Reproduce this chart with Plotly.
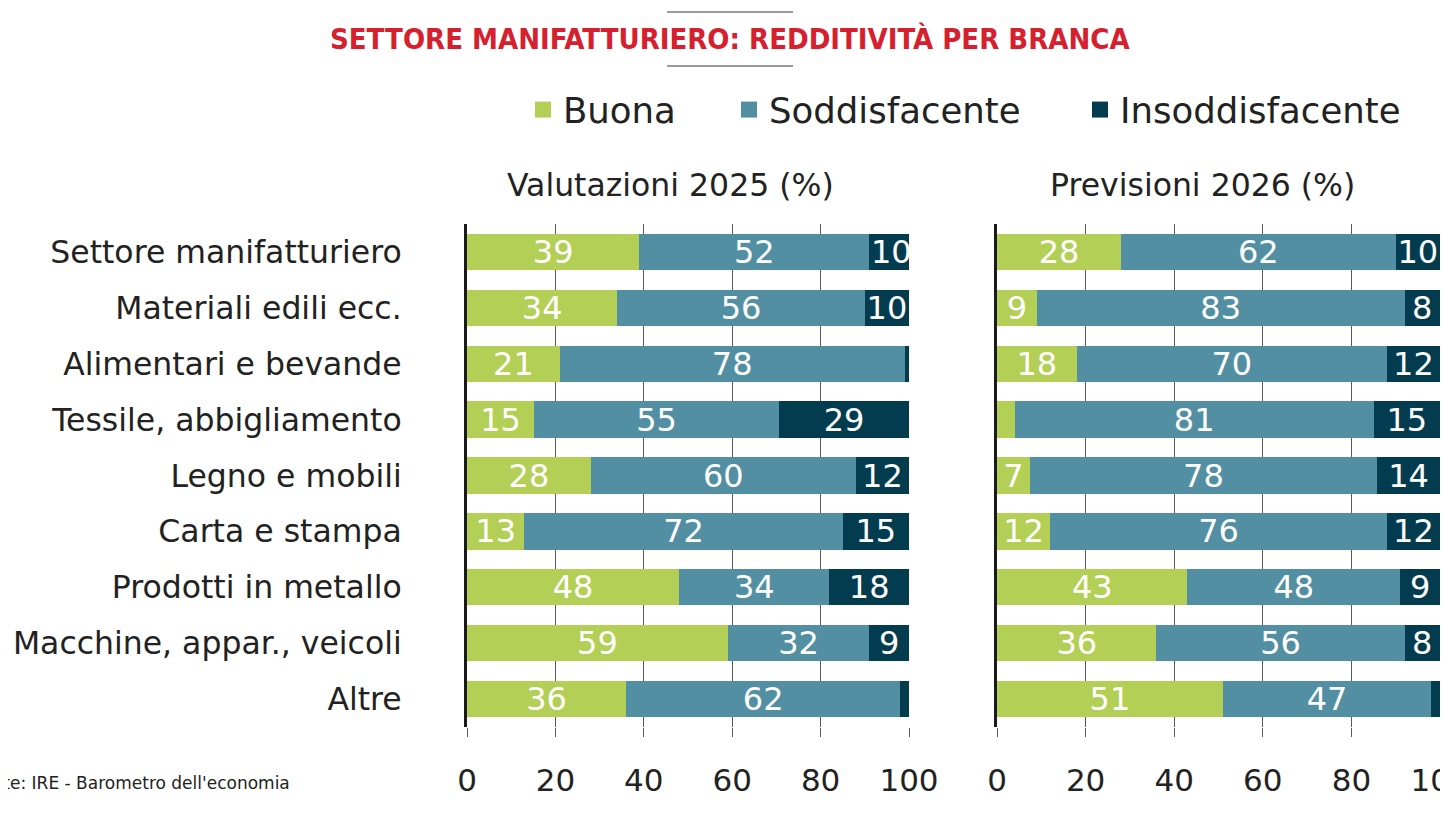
import plotly.graph_objects as go
from plotly.subplots import make_subplots

# Dati (percentuali)
branche = ["Settore manifatturiero", "Materiali edili ecc.", "Alimentari e bevande",
           "Tessile, abbigliamento", "Legno e mobili", "Carta e stampa",
           "Prodotti in metallo", "Macchine, appar., veicoli", "Altre"]

buona_2025 = [39, 34, 21, 15.2, 28, 13, 48, 59, 36]
sodd_2025 = [52, 56, 78, 55.4, 60, 72, 34, 32, 62]
insodd_2025 = [10, 10, 1, 29.4, 12, 15, 18, 9, 2]

buona_2026 = [28, 9, 18, 4, 7.4, 12, 43, 36, 51]
sodd_2026 = [62, 83, 70, 81, 78.4, 76, 48, 56, 47]
insodd_2026 = [10, 8, 12, 15, 14.2, 12, 9, 8, 2]

x_ticks = [0, 20, 40, 60, 80, 100]

GREEN = "#b3cf55"
TEAL = "#528fa3"
DARK = "#043c4f"
FONT = "DejaVu Sans"
INK = "#222222"

# the page body has an 8px margin, so everything is placed 8px up/left
OFF = 8
W, H = 1448 - OFF, 815 - OFF
left0, left1 = 467 - OFF, 909 - OFF
right0, right1 = 997 - OFF, 1440 - OFF
top, bottom = 224 - OFF, 727 - OFF
pw, ph = right1 - left0, bottom - top


def px(x):
    # page x -> paper x
    return (x - OFF - left0) / pw


def py(y):
    # page y -> paper y
    return (bottom - (y - OFF)) / ph


def labels(vals):
    # only show the number when the segment is wide enough
    return [str(round(v)) if v >= 5 else "" for v in vals]


fig = make_subplots(rows=1, cols=2, shared_yaxes=True, horizontal_spacing=0.0)

series = [
    ("Buona", GREEN, buona_2025, buona_2026, "legend", 542),
    ("Soddisfacente", TEAL, sodd_2025, sodd_2026, "legend2", 748),
    ("Insoddisfacente", DARK, insodd_2025, insodd_2026, "legend3", 1099),
]

legends = {}
for name, col, v25, v26, leg, sq_x in series:
    for c, vals in ((1, v25), (2, v26)):
        fig.add_trace(go.Bar(
            y=branche, x=vals, orientation="h", name=name,
            marker=dict(color=col, line=dict(width=0)),
            text=labels(vals), textposition="inside", insidetextanchor="middle",
            constraintext="none", textangle=0,
            textfont=dict(color="white", size=32, family=FONT),
            showlegend=False, hoverinfo="x+name",
        ), row=1, col=c)
    # legend entry with a bigger square, one legend box per item
    fig.add_trace(go.Scatter(
        x=[None], y=[None], mode="markers", name=name, legend=leg,
        marker=dict(symbol="square", size=21, color=col),
        showlegend=True,
    ), row=1, col=1)
    legends[leg] = dict(orientation="h", x=px(sq_x - 19), xanchor="left",
                        y=py(110), yanchor="middle",
                        font=dict(size=35.5, family=FONT, color=INK),
                        itemsizing="trace", itemwidth=30, bgcolor="rgba(0,0,0,0)")

fig.update_layout(
    width=W, height=H,
    barmode="stack", bargap=0.35,
    plot_bgcolor="white", paper_bgcolor="white",
    margin=dict(l=left0, r=W - right1, t=top, b=H - bottom, autoexpand=False),
    font=dict(family=FONT, size=30, color=INK),
    **legends,
)

gap = (right0 - left1) / pw
d1 = (left1 - left0) / pw
fig.update_xaxes(range=[0, 100], tickvals=x_ticks, showgrid=True, gridcolor="#5a5a5a",
                 gridwidth=1, zeroline=False, ticks="outside", ticklen=9,
                 tickcolor="#5a5a5a", ticklabelstandoff=17, automargin=False,
                 ticklabeloverflow="allow",
                 tickfont=dict(size=31, family=FONT, color=INK), fixedrange=True)
fig.update_layout(xaxis=dict(domain=[0, d1]), xaxis2=dict(domain=[d1 + gap, 1]))
fig.update_yaxes(autorange="reversed", showline=True, linecolor="#1a1a1a", linewidth=3,
                 ticks="", showgrid=False, ticklabelstandoff=56, automargin=False,
                 tickfont=dict(size=31.5, family=FONT, color=INK))

# titoli dei pannelli
for txt, xc in (("Valutazioni 2025 (%)", 670), ("Previsioni 2026 (%)", 1202)):
    fig.add_annotation(text=txt, xref="paper", yref="paper", x=px(xc), xanchor="center",
                       y=py(185), yanchor="middle", showarrow=False,
                       font=dict(size=31.5, family=FONT, color=INK))

# titolo
fig.add_annotation(text="<b>SETTORE MANIFATTURIERO: REDDITIVITÀ PER BRANCA</b>",
                   xref="paper", yref="paper", x=px(730), xanchor="center",
                   y=py(39), yanchor="middle", showarrow=False,
                   font=dict(size=29, family="DejaVu Sans Condensed", color="#d6202e"))
for yy in (12, 66):
    fig.add_shape(type="line", xref="paper", yref="paper",
                  x0=px(667), x1=px(793), y0=py(yy), y1=py(yy),
                  line=dict(color="#777777", width=1.5))

# fonte (tagliata a sinistra come nell'originale)
fig.add_annotation(text="Fonte: IRE - Barometro dell'economia", xref="paper", yref="paper",
                   x=px(292), xanchor="right", y=py(783), yanchor="middle",
                   showarrow=False, font=dict(size=17, family=FONT, color=INK))

fig.write_html("out.html")
